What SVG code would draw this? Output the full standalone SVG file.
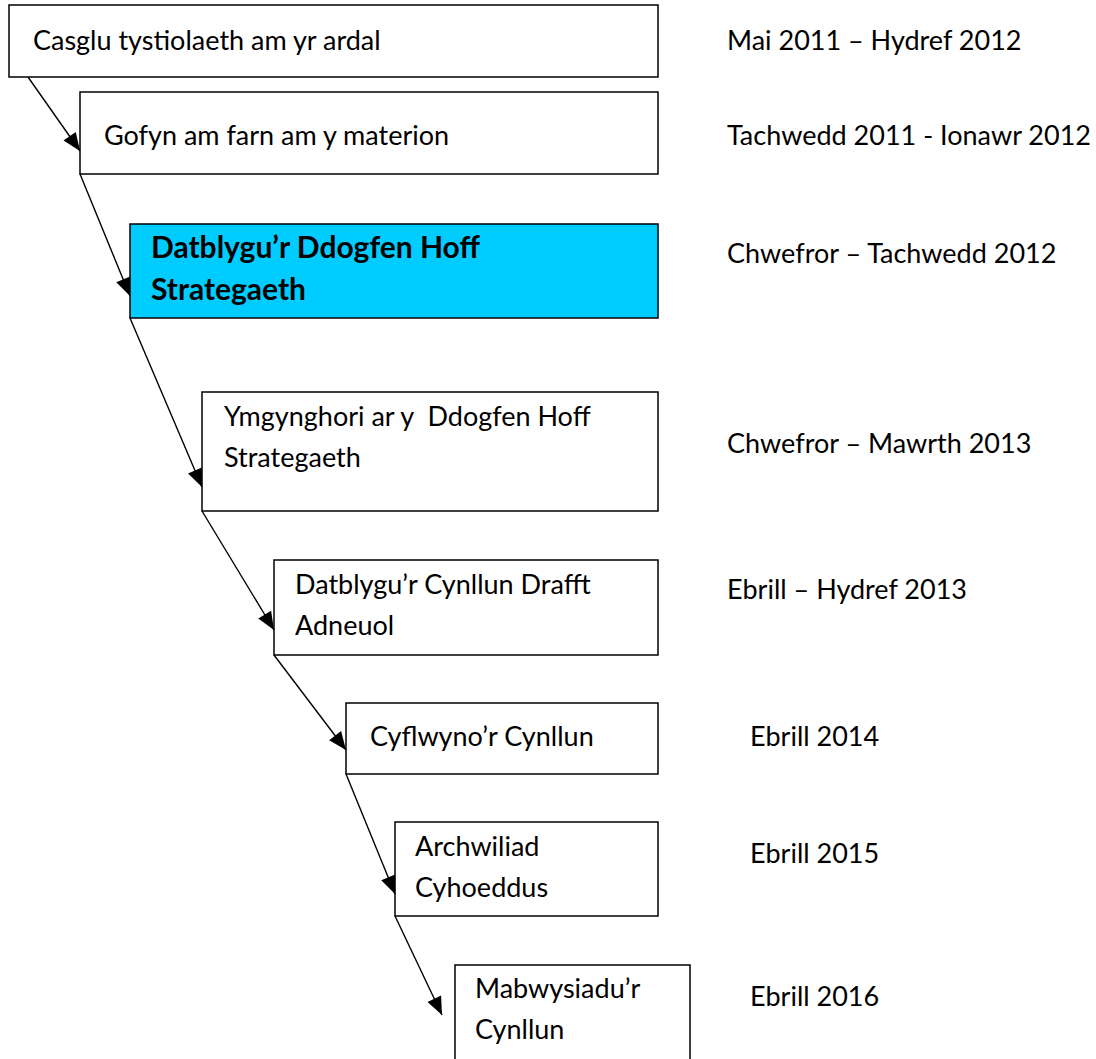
<svg xmlns="http://www.w3.org/2000/svg" width="1096" height="1059" viewBox="0 0 1096 1059">
<style>
.box{fill:#fff;stroke:#000;stroke-width:1.5}
.hl{fill:#00CCFF}
text{font-family:Lato,"Liberation Sans",sans-serif;font-size:27px;fill:#000;white-space:pre}
.b{font-weight:bold;font-size:30px}
.c line{stroke:#000;stroke-width:1.4}
</style>
<defs>
<marker id="ah" markerWidth="18" markerHeight="16" refX="18" refY="8" orient="auto" markerUnits="userSpaceOnUse" overflow="visible">
<path d="M0,0.5 L18,8 L0,15.5 Z" fill="#000"/>
</marker>
</defs>
<rect width="1096" height="1059" fill="#fff"/>
<g id="n1"><rect class="box" x="9" y="5" width="649" height="72"/><text x="33" y="50">Casglu tystiolaeth am yr ardal</text></g>
<g id="n2"><rect class="box" x="80" y="92" width="578" height="82"/><text x="104" y="145">Gofyn am farn am y materion</text></g>
<g id="n3"><rect class="box hl" x="130" y="224" width="528" height="94"/><text class="b" x="151" y="258">Datblygu’r Ddogfen Hoff</text><text class="b" x="151" y="300">Strategaeth</text></g>
<g id="n4"><rect class="box" x="202" y="392" width="456" height="119"/><text x="224" y="426" xml:space="preserve">Ymgynghori ar y  Ddogfen Hoff</text><text x="224" y="467">Strategaeth</text></g>
<g id="n5"><rect class="box" x="274" y="560" width="384" height="95"/><text x="295" y="594">Datblygu’r Cynllun Drafft</text><text x="295" y="635">Adneuol</text></g>
<g id="n6"><rect class="box" x="346" y="703" width="312" height="71"/><text x="370" y="746">Cyflwyno’r Cynllun</text></g>
<g id="n7"><rect class="box" x="395" y="822" width="263" height="94"/><text x="415" y="856">Archwiliad</text><text x="415" y="897">Cyhoeddus</text></g>
<g id="n8"><rect class="box" x="455" y="965" width="235" height="100"/><text x="475" y="998">Mabwysiadu’r</text><text x="475" y="1039">Cynllun</text></g>
<g id="dates">
<text x="727" y="50">Mai 2011 – Hydref 2012</text>
<text x="727" y="145">Tachwedd 2011 - Ionawr 2012</text>
<text x="727" y="263">Chwefror – Tachwedd 2012</text>
<text x="727" y="453">Chwefror – Mawrth 2013</text>
<text x="727" y="599">Ebrill – Hydref 2013</text>
<text x="750" y="746">Ebrill 2014</text>
<text x="750" y="863">Ebrill 2015</text>
<text x="750" y="1006">Ebrill 2016</text>
</g>
<g class="c" id="connectors">
<line x1="28" y1="77" x2="80" y2="151" marker-end="url(#ah)"/>
<line x1="80" y1="174" x2="130" y2="296" marker-end="url(#ah)"/>
<line x1="130" y1="318" x2="202" y2="487" marker-end="url(#ah)"/>
<line x1="202" y1="511" x2="274" y2="630" marker-end="url(#ah)"/>
<line x1="274" y1="655" x2="346" y2="750" marker-end="url(#ah)"/>
<line x1="346" y1="774" x2="395" y2="894" marker-end="url(#ah)"/>
<line x1="395" y1="916" x2="442" y2="1015" marker-end="url(#ah)"/>
</g>
</svg>
